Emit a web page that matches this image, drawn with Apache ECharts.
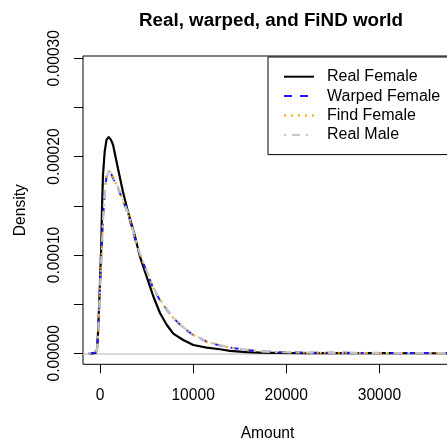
<!DOCTYPE html>
<html>
<head>
<meta charset="utf-8">
<script src="https://cdn.jsdelivr.net/npm/echarts@6/dist/echarts.min.js"></script>
<style>
  html, body { margin: 0; padding: 0; background: #ffffff; }
  #chart { width: 447px; height: 440px; }
</style>
</head>
<body>
<div id="chart"></div>
<script>
// Amount grid (x) shared by all density curves
const amount = [-1200, -800, -450, -320, -215, -30, 140, 215, 320, 505, 700, 935, 1180, 1400,
  1930, 2470, 3000, 3730, 4300, 5010, 5720, 6440, 7160, 7870, 8940, 10020, 11460, 12890,
  13960, 15750, 17180, 19000, 22000, 25000, 28000, 31000, 34000, 37800];

// Kernel density estimates, in units of 1e-5
const realFemale = [0, 0, 0.05, 0.4, 2.0, 6.4, 11.0, 14.7, 18.1, 20.5, 21.7, 22.0, 21.7, 21.2,
  18.8, 16.4, 14.4, 12.0, 9.8, 7.8, 5.8, 4.1, 2.9, 2.0, 1.35, 0.84, 0.57, 0.41,
  0.25, 0.12, 0.07, 0.04, 0.02, 0.015, 0.01, 0.01, 0.005, 0.005];
const warpedFemale = [0, 0.02, 0.1, 0.35, 1.8, 5.9, 9.6, 11.0, 13.7, 16.4, 18.0, 18.45, 18.3, 17.8,
  16.8, 15.5, 14.2, 11.7, 10.0, 8.3, 6.6, 5.4, 4.45, 3.6, 2.6, 1.86, 1.18, 0.79,
  0.58, 0.34, 0.2, 0.12, 0.07, 0.05, 0.04, 0.03, 0.03, 0.02];
const findFemale = [0, 0.02, 0.1, 0.35, 1.8, 5.9, 9.7, 11.1, 13.8, 16.5, 18.1, 18.55, 18.35, 17.85,
  16.8, 15.5, 14.2, 11.8, 10.05, 8.35, 6.65, 5.4, 4.45, 3.6, 2.62, 1.88, 1.2, 0.8,
  0.58, 0.34, 0.2, 0.12, 0.07, 0.05, 0.04, 0.03, 0.03, 0.02];
const realMale = [0, 0.02, 0.1, 0.33, 1.7, 5.7, 9.4, 10.8, 13.5, 16.2, 17.9, 18.5, 18.4, 17.9,
  16.9, 15.6, 14.3, 11.9, 10.1, 8.4, 6.7, 5.5, 4.5, 3.65, 2.65, 1.9, 1.2, 0.8,
  0.6, 0.35, 0.2, 0.12, 0.07, 0.05, 0.04, 0.03, 0.03, 0.02];

const seriesNames = ['Real Female', 'Warped Female', 'Find Female', 'Real Male'];
const xTicks = [0, 10000, 20000, 30000];
const yTicks = [0, 0.00005, 0.0001, 0.00015, 0.0002, 0.00025, 0.0003];
const yLabels = [0, 0.0001, 0.0002, 0.0003];

const UNIT = 1e-5;
const FONT = '"Liberation Sans", Arial, Helvetica, sans-serif';
const toPairs = vals => amount.map((a, i) => [a, vals[i] * UNIT]);

const chart = echarts.init(document.getElementById('chart'), null, { renderer: 'canvas' });

function lineSeries(name, vals, color, width, dash, z) {
  return {
    name: name,
    type: 'line',
    data: toPairs(vals),
    symbol: 'none',
    smooth: false,
    z: z,
    lineStyle: { color: color, width: width, type: dash },
    itemStyle: { color: color }
  };
}

const series = [
  lineSeries(seriesNames[0], realFemale, '#000000', 2.2, 'solid', 2),
  lineSeries(seriesNames[1], warpedFemale, '#1a1aff', 2, [8, 8], 3),
  lineSeries(seriesNames[2], findFemale, '#ffa500', 2, [2, 5], 4),
  lineSeries(seriesNames[3], realMale, '#c4c4c4', 2.2, [2, 6, 8, 6], 5)
];
// horizontal reference at zero density
series[0].markLine = {
  silent: true,
  symbol: 'none',
  label: { show: false },
  lineStyle: { color: '#cccccc', width: 1.5, type: 'solid' },
  data: [{ yAxis: 0 }],
  z: 1
};

chart.setOption({
  animation: false,
  backgroundColor: '#ffffff',
  textStyle: { fontFamily: FONT },
  title: {
    text: 'Real, warped, and FiND world',
    left: 266,
    top: 6,
    textAlign: 'center',
    textStyle: { fontFamily: FONT, fontSize: 18.8, fontWeight: 'bold', color: '#000' }
  },
  legend: {
    orient: 'vertical',
    left: 268,
    top: 57,
    data: seriesNames,
    itemWidth: 30,
    itemHeight: 14,
    itemGap: 3.4,
    padding: [11.7, 22, 11.7, 15],
    borderColor: '#000',
    borderWidth: 1,
    backgroundColor: '#ffffff',
    itemStyle: { opacity: 0 },
    textStyle: { fontFamily: FONT, fontSize: 16, color: '#000', padding: [0, 0, 0, 8] }
  },
  grid: {
    left: 83,
    top: 56,
    right: -5,
    bottom: 75.7,
    outerBoundsMode: 'none',
    containLabel: false,
    show: true,
    borderColor: '#000',
    borderWidth: 1,
    backgroundColor: 'transparent'
  },
  xAxis: {
    type: 'value',
    min: -1825,
    max: 37797,
    name: 'Amount',
    nameLocation: 'middle',
    nameGap: 61,
    nameMoveOverlap: false,
    nameTextStyle: { fontFamily: FONT, fontSize: 15.6, color: '#000' },
    axisLine: { show: false, onZero: false },
    splitLine: { show: false },
    axisTick: { show: true, inside: false, length: 9, lineStyle: { color: '#000' }, customValues: xTicks },
    axisLabel: {
      fontFamily: FONT, fontSize: 15.6, color: '#000', margin: 23,
      customValues: xTicks,
      formatter: v => String(v)
    }
  },
  yAxis: {
    type: 'value',
    min: -0.00001119,
    max: 0.0003023,
    name: 'Density',
    nameLocation: 'middle',
    nameRotate: 90,
    nameGap: 54,
    nameMoveOverlap: false,
    nameTextStyle: { fontFamily: FONT, fontSize: 15.6, color: '#000' },
    axisLine: { show: false, onZero: false },
    splitLine: { show: false },
    axisTick: { show: true, inside: false, length: 9, lineStyle: { color: '#000' }, customValues: yTicks },
    axisLabel: {
      fontFamily: FONT, fontSize: 15.6, color: '#000', margin: 20, rotate: 90,
      customValues: yLabels,
      formatter: v => v.toFixed(5)
    }
  },
  series: series
});
</script>
</body>
</html>
